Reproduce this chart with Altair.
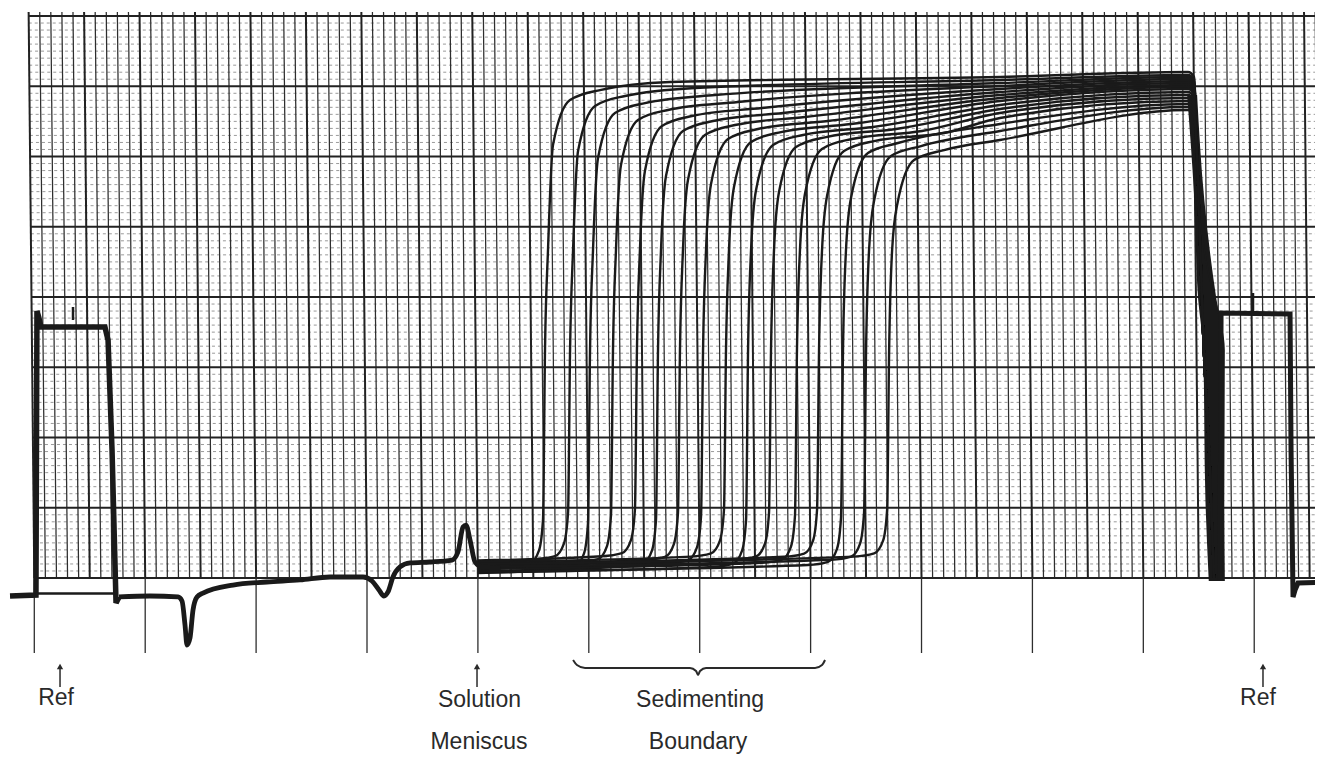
import altair as alt
import pandas as pd

# Units: x = minor vertical divisions of the recorder paper (0 = left border line),
#        y = minor horizontal divisions (0 = bottom grid line, 80 = top border).
X_DOMAIN = [-2.371, 115.48]
Y_DOMAIN = [-25.48, 81.14]
W, H = 1307, 749

N_COLS = 116          # vertical grid lines 0..116
N_ROWS = 80           # horizontal divisions
SKEW = 0.51           # paper is scanned slightly rotated (top of lines shifted left)
TOP = 80.57           # vertical lines poke slightly above top border

# ---- sedimenting boundary scans (16 scans) ----
rise_x = [46.05, 48.31, 50.11, 52.18, 54.34, 56.24, 58.22, 60.30,
          62.37, 64.36, 66.43, 68.77, 70.76, 72.92, 75.00, 77.08]
knee_y = [68.04, 67.19, 66.19, 65.20, 64.34, 63.63, 63.06, 62.49,
          62.06, 61.64, 61.35, 61.07, 60.78, 60.50, 60.07, 59.50]
level_mid = [71.32, 70.89, 70.46, 70.04, 69.61, 69.18, 68.75, 68.33,
             67.90, 67.33, 66.76, 66.19, 65.48, 64.63, 63.63, 62.35]
level_end = [72.03, 71.60, 71.32, 71.03, 70.75, 70.46, 70.18, 69.89,
             69.61, 69.18, 68.75, 68.33, 67.90, 67.47, 67.05, 66.62]
base_y = [1.2, 2.2, 0.7, 1.7, 2.5, 1.0, 1.9, 1.4, 2.3, 0.8, 1.8, 1.3, 2.1, 0.9, 1.6, 2.0]
MID_X, END_X = 87.08, 104.03
drop_x = [104.93, 105.38, 106.01, 106.37]
drop_y = [56.65, 35.30, 15.37, 0.0]

# ---- single thick trace before the meniscus ----
ref_left_x = [-2.19, 0.15, 0.24, 0.42, 0.60, 6.37, 6.65, 7.01, 7.37, 7.64]
ref_left_y = [-2.56, -2.42, 38.01, 37.01, 35.73, 35.73, 33.88, 18.22, -3.56, -2.70]
under_x = [0.15, 7.2]
under_y = [-2.2, -2.2]
pre_x = [7.64, 10.43, 12.96, 13.32, 13.59, 13.77, 14.04, 14.31, 14.67, 15.21, 17.92,
         20.98, 23.96, 26.66, 29.64, 30.45, 31.08, 31.53, 31.89, 32.34, 32.98, 33.88,
         35.68, 37.66, 38.20, 38.66, 38.93, 39.29, 39.74, 40.37, 42.00]
pre_y = [-2.70, -2.56, -2.70, -3.27, -6.69, -9.54, -8.54, -4.56, -2.70, -2.14, -1.00,
         -0.57, -0.28, 0.14, 0.14, -0.43, -1.71, -2.56, -1.99, 0.14, 1.57, 2.14,
         2.28, 2.56, 3.70, 7.26, 7.54, 5.41, 2.28, 1.57, 1.42]

# ---- right side: cell bottom band and reference sector ----
band_y = [68.75, 53.81, 39.57, 32.46, 11.10, -0.43]
band_l = [103.95, 104.60, 104.95, 105.40, 105.60, 105.90]
band_r = [104.85, 105.50, 106.60, 107.35, 107.30, 107.35]
loop_x = [104.84, 105.68, 106.38, 106.83]
loop_y = [53.81, 44.98, 40.14, 37.29]
ref_right_x = [106.92, 107.01, 113.23, 113.32, 113.50, 113.68, 113.95, 116.60]
ref_right_y = [-0.28, 37.72, 37.58, 18.22, -2.70, -1.71, -0.71, -0.57]
spike_x = [3.49, 109.89]
spike_y1 = [36.73, 37.86]
spike_y2 = [38.58, 40.57]

# ---- annotations ----
label_text = ["Ref", "Solution", "Meniscus", "Sedimenting", "Boundary", "Ref"]
label_x = [1.96, 40.14, 40.10, 60.03, 59.85, 110.34]
label_y = [-18.08, -18.36, -24.34, -18.36, -24.34, -18.08]
arrow_x = [2.32, 39.92, 110.79]
arrow_y1 = [-15.52, -15.52, -15.52]
arrow_y2 = [-12.6, -12.6, -12.6]
brace_x = [48.58, 48.93, 49.66, 59.12, 59.67, 59.85, 60.03, 60.57, 70.40, 71.03, 71.30]
brace_y = [-11.67, -12.38, -12.81, -12.81, -13.24, -13.81, -13.24, -12.81, -12.81, -12.38, -11.67]
TICK_BOTTOM = -10.68

INK = "#1a1a1a"
GRID = "#2e2e2e"

xs = alt.Scale(domain=X_DOMAIN, nice=False, zero=False)
ys = alt.Scale(domain=Y_DOMAIN, nice=False, zero=False)


def X(f):
    return alt.X(f, type="quantitative", scale=xs, axis=None)


def Y(f):
    return alt.Y(f, type="quantitative", scale=ys, axis=None)


# ---------- grid ----------
vlines = pd.DataFrame({"i": list(range(N_COLS + 1))})
vlines["x"] = vlines["i"].astype(float)
vlines["x2"] = vlines["x"] - SKEW
vlines["y"] = 0.0
vlines["y2"] = TOP
v_minor = vlines[vlines["i"] % 5 != 0]
v_bold = vlines[vlines["i"] % 5 == 0]

hrows = pd.DataFrame({"v": list(range(N_ROWS + 1))})
hrows["x"] = -SKEW * hrows["v"] / TOP
hrows["x2"] = 116.6
h_major = hrows[hrows["v"] % 10 == 0]
h_minor = hrows[hrows["v"] % 10 != 0]

ticks = pd.DataFrame({"x": [float(i) for i in range(0, 111, 10)]})
ticks["y"] = 0.0
ticks["y2"] = TICK_BOTTOM

g_minor_h = alt.Chart(h_minor).mark_rule(color="#888888", strokeWidth=1, strokeDash=[3, 3], opacity=0.85).encode(
    x=X("x"), x2="x2", y=Y("v"))
g_minor_v = alt.Chart(v_minor).mark_rule(color=GRID, strokeWidth=1.25).encode(
    x=X("x"), x2="x2", y=Y("y"), y2="y2")
g_bold_v = alt.Chart(v_bold).mark_rule(color="#222222", strokeWidth=2.0).encode(
    x=X("x"), x2="x2", y=Y("y"), y2="y2")
g_major_h = alt.Chart(h_major).mark_rule(color="#222222", strokeWidth=1.8).encode(
    x=X("x"), x2="x2", y=Y("v"))
g_ticks = alt.Chart(ticks).mark_rule(color=GRID, strokeWidth=1.3).encode(
    x=X("x"), y=Y("y"), y2="y2")

# ---------- sedimenting scans ----------
rows = []
for k in range(16):
    R, K, M, E, B = rise_x[k], knee_y[k], level_mid[k], level_end[k], base_y[k]
    foot = B + (R - 40.0) * 0.02
    pts = [(40.01, B), (R - 3.16, foot + 0.3), (R - 1.35, foot + 0.75), (R - 0.54, foot + 2.6),
           (R - 0.18, foot + 7.0), (R, 32.46), (R + 0.27, 46.69), (R + 0.72, K - 6.4),
           (R + 2.25, K), (R + 4.96, K + 1.42)]
    if R + 11.27 < 83.47:
        pts.append((R + 11.27, K + 2.56))
    pts += [(MID_X, M), (END_X, E), (END_X + 0.54, E - 0.7)]
    pts += list(zip(drop_x, drop_y))
    for j, (px, py) in enumerate(pts):
        rows.append({"scan": k, "ord": j, "x": px, "y": py})
scans = pd.DataFrame(rows)

scan_layer = alt.Chart(scans).mark_line(interpolate="monotone", color=INK, strokeWidth=2.4).encode(
    x=X("x"), y=Y("y"), detail="scan:N", order="ord:Q")


def trace(xv, yv, name, sw):
    return pd.DataFrame({"x": xv, "y": yv, "id": name, "ord": range(len(xv)), "sw": sw})


lin = pd.concat([
    trace(ref_left_x, ref_left_y, "refL", 5.5),
    trace(under_x, under_y, "under", 2.5),
    trace(ref_right_x, ref_right_y, "refR", 5.0),
])
lin_layer = alt.Chart(lin).mark_line(color=INK, strokeJoin="miter").encode(
    x=X("x"), y=Y("y"), detail="id:N", order="ord:Q", strokeWidth=alt.StrokeWidth("sw:Q", scale=None))

smooth = pd.concat([
    trace(pre_x, pre_y, "pre", 4.8),
    trace(loop_x, loop_y, "loop", 1.6),
])
smooth_layer = alt.Chart(smooth).mark_line(color=INK, interpolate="monotone").encode(
    x=X("x"), y=Y("y"), detail="id:N", order="ord:Q", strokeWidth=alt.StrokeWidth("sw:Q", scale=None))

band = pd.DataFrame({"y": band_y, "l": band_l, "r": band_r})
band_layer = alt.Chart(band).mark_area(orient="horizontal", color=INK, interpolate="monotone").encode(
    y=Y("y"), x=X("l"), x2="r")

spikes = pd.DataFrame({"x": spike_x, "y": spike_y1, "y2": spike_y2})
spike_layer = alt.Chart(spikes).mark_rule(color=INK, strokeWidth=2.5).encode(
    x=X("x"), y=Y("y"), y2="y2")

# ---------- annotations ----------
labels = pd.DataFrame({"label": label_text, "x": label_x, "y": label_y})
text_layer = alt.Chart(labels).mark_text(font="Liberation Sans", fontSize=23, color="#2a2a2a",
                                         align="center", baseline="alphabetic").encode(
    x=X("x"), y=Y("y"), text="label:N")

arrows = pd.DataFrame({"x": arrow_x, "y": arrow_y1, "y2": arrow_y2})
arrow_shaft = alt.Chart(arrows).mark_rule(color="#2a2a2a", strokeWidth=1.5).encode(
    x=X("x"), y=Y("y"), y2="y2")
arrow_head = alt.Chart(arrows).mark_point(shape="triangle-up", filled=True, size=40,
                                          color="#2a2a2a", opacity=1).encode(
    x=X("x"), y=Y("y2"))

brace = trace(brace_x, brace_y, "brace", 2)
brace_layer = alt.Chart(brace).mark_line(color="#2a2a2a", strokeWidth=2, interpolate="monotone").encode(
    x=X("x"), y=Y("y"), order="ord:Q")

chart = alt.layer(
    g_minor_h, g_minor_v, g_bold_v, g_major_h, g_ticks,
    band_layer, scan_layer, smooth_layer, lin_layer, spike_layer,
    brace_layer, arrow_shaft, arrow_head, text_layer,
).properties(
    width=W, height=H,
    autosize=alt.AutoSizeParams(type="none"),
    padding=0,
    background="white",
).configure_view(stroke=None)

chart.save("out.html", embed_options={"renderer": "svg", "actions": False})
